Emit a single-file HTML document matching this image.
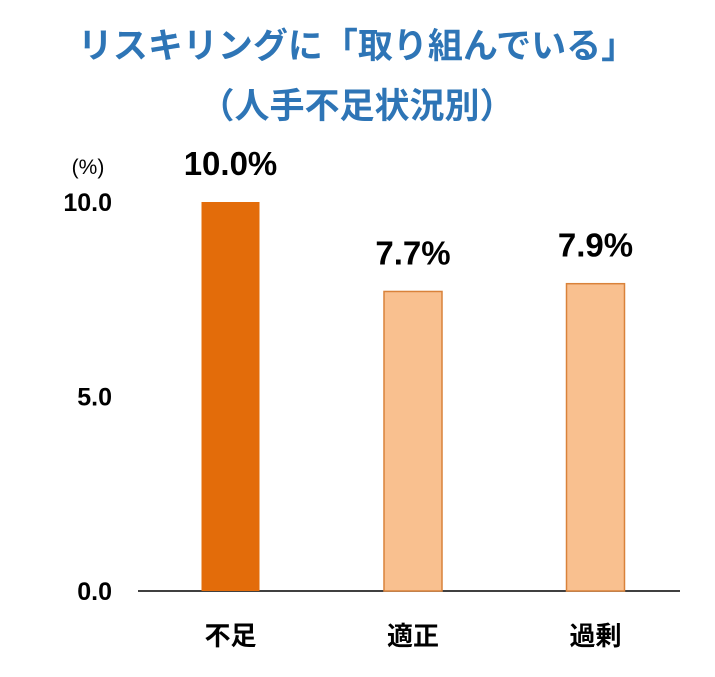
<!DOCTYPE html>
<html><head><meta charset="utf-8"><style>
body{margin:0;background:#fff;}
svg text{font-family:"Liberation Sans","Noto Sans CJK JP",sans-serif;}
</style></head><body>
<svg width="715" height="672" viewBox="0 0 715 672">
<text x="357" y="58" text-anchor="middle" font-size="35" font-weight="bold" fill="#2e75b6">リスキリングに「取り組んでいる」</text>
<text x="357" y="118" text-anchor="middle" font-size="35" font-weight="bold" fill="#2e75b6">（人手不足状況別）</text>
<text x="88" y="174" text-anchor="middle" font-size="21" fill="#000">(%)</text>
<g id="yticks"></g>
<line x1="138" y1="591" x2="680" y2="591" stroke="#000" stroke-width="1.5"/>
<g id="bars"></g>
</svg>
<script>
const categories=["不足","適正","過剰"];
const values=[10.0,7.7,7.9];
const valueLabels=["10.0%","7.7%","7.9%"];
const tickValues=[0,5,10];
const tickLabels=["0.0","5.0","10.0"];
const ns="http://www.w3.org/2000/svg";
const y0=591,pxPer=38.9;
const yScale=v=>y0-v*pxPer;
const xCenter=i=>230.5+i*182.5;
const bw=58;
const yt=document.getElementById('yticks');
tickValues.forEach((t,i)=>{
 const el=document.createElementNS(ns,'text');
 el.setAttribute('x',112);el.setAttribute('y',yScale(t)+9);
 el.setAttribute('text-anchor','end');el.setAttribute('font-size','25');el.setAttribute('font-weight','bold');
 el.textContent=tickLabels[i];
 
 
 yt.appendChild(el);
});
const g=document.getElementById('bars');
categories.forEach((c,i)=>{
 const r=document.createElementNS(ns,'rect');
 const top=yScale(values[i]);
 r.setAttribute('x',xCenter(i)-bw/2);r.setAttribute('y',top);
 r.setAttribute('width',bw);r.setAttribute('height',y0-top);
 if(i===0){r.setAttribute('fill','#e36c0a');}
 else{r.setAttribute('fill','#f9c08f');r.setAttribute('stroke','#d9823a');r.setAttribute('stroke-width','1.5');}
 
 
 g.appendChild(r);
 const vl=document.createElementNS(ns,'text');
 vl.setAttribute('x',xCenter(i));vl.setAttribute('y',top-27);
 vl.setAttribute('text-anchor','middle');vl.setAttribute('font-size','33');
 vl.setAttribute('font-weight','bold');
 vl.textContent=valueLabels[i];
 
 
 g.appendChild(vl);
 const cl=document.createElementNS(ns,'text');
 cl.setAttribute('x',xCenter(i));cl.setAttribute('y',645);
 cl.setAttribute('text-anchor','middle');cl.setAttribute('font-size','26');cl.setAttribute('font-weight','bold');
 cl.textContent=c;
 
 
 g.appendChild(cl);
});
</script>
</body></html>
